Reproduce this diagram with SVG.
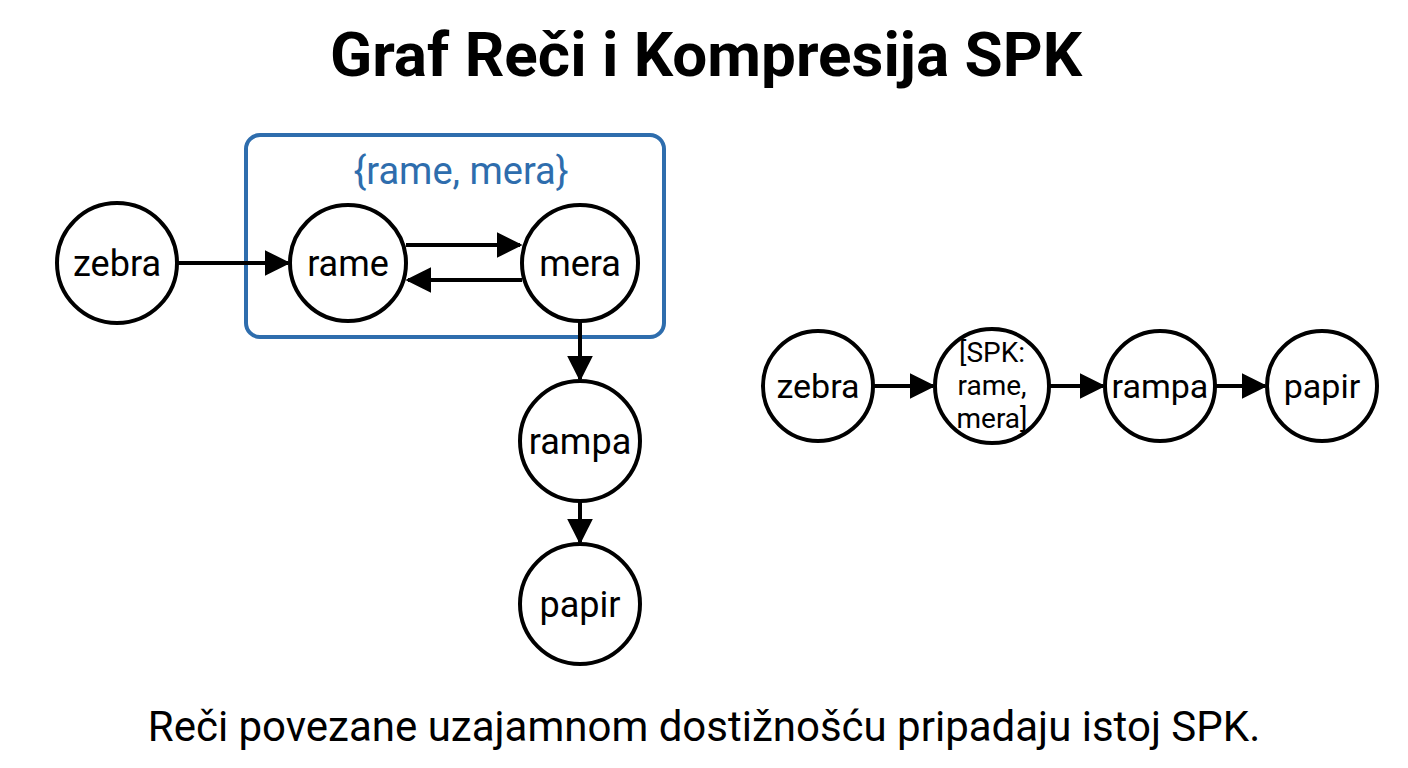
<svg xmlns="http://www.w3.org/2000/svg" width="1408" height="768" viewBox="0 0 1408 768">
<style>
.n{fill:#fff;stroke:#000;stroke-width:4}
.t{font-family:Roboto,"Liberation Sans",sans-serif;fill:#000;text-anchor:middle}
.e{stroke:#000;stroke-width:4;fill:none}
</style>
<defs><marker id="b" viewBox="0 0 10 10" refX="9" refY="5" markerWidth="6.5" markerHeight="6.5" orient="auto"><path d="M0,0L10,5L0,10z" fill="#000"/></marker></defs>
<rect width="1408" height="768" fill="#fff"/>
<text class="t" x="706" y="76" font-size="62" font-weight="bold">Graf Reči i Kompresija SPK</text>
<g id="scc"><rect x="246" y="135" width="418" height="202" rx="14" fill="none" stroke="#2e6dad" stroke-width="4"/>
<text class="t" x="461" y="184" font-size="38" style="fill:#2e6dad">{rame, mera}</text></g>
<g id="edges">
<path class="e" d="M177,263H288" marker-end="url(#b)"/>
<path class="e" d="M406,245H520" marker-end="url(#b)"/>
<path class="e" d="M522,280H408" marker-end="url(#b)"/>
<path class="e" d="M580,321V379" marker-end="url(#b)"/>
<path class="e" d="M580,501V542" marker-end="url(#b)"/>
<path class="e" d="M873,386H933" marker-end="url(#b)"/>
<path class="e" d="M1049,386H1103" marker-end="url(#b)"/>
<path class="e" d="M1215,386H1265" marker-end="url(#b)"/>
</g>
<g id="zebra"><circle class="n" cx="117" cy="263" r="60"/><text class="t" x="117" y="276" font-size="36">zebra</text></g>
<g id="rame"><circle class="n" cx="348" cy="263" r="58"/><text class="t" x="348" y="276" font-size="36">rame</text></g>
<g id="mera"><circle class="n" cx="580" cy="263" r="58"/><text class="t" x="580" y="276" font-size="36">mera</text></g>
<g id="rampa"><circle class="n" cx="580" cy="441" r="60"/><text class="t" x="580" y="454" font-size="36">rampa</text></g>
<g id="papir"><circle class="n" cx="580" cy="604" r="60"/><text class="t" x="580" y="617" font-size="36">papir</text></g>
<g id="zebra2"><circle class="n" cx="818" cy="386" r="55"/><text class="t" x="818" y="398" font-size="34">zebra</text></g>
<g id="spk"><circle class="n" cx="992" cy="386" r="57"/><text class="t" x="992" y="362" font-size="28">[SPK:</text><text class="t" x="992" y="395" font-size="28">rame,</text><text class="t" x="992" y="428" font-size="28">mera]</text></g>
<g id="rampa2"><circle class="n" cx="1160" cy="386" r="55"/><text class="t" x="1160" y="398" font-size="34">rampa</text></g>
<g id="papir2"><circle class="n" cx="1322" cy="386" r="55"/><text class="t" x="1322" y="398" font-size="34">papir</text></g>
<text class="t" x="704" y="741" font-size="42">Reči povezane uzajamnom dostižnošću pripadaju istoj SPK.</text>
</svg>
